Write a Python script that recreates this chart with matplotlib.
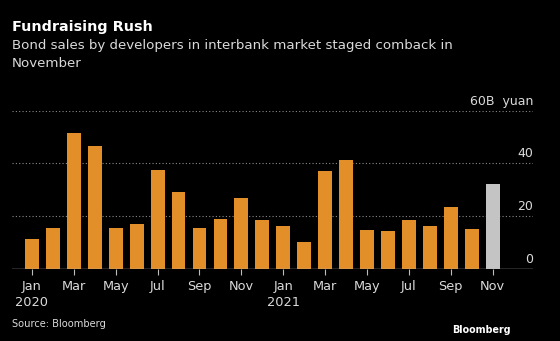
import matplotlib.pyplot as plt

# Monthly developer bond sales in interbank market, billion yuan
months = ["Jan", "Feb", "Mar", "Apr", "May", "Jun", "Jul", "Aug", "Sep", "Oct", "Nov", "Dec",
          "Jan", "Feb", "Mar", "Apr", "May", "Jun", "Jul", "Aug", "Sep", "Oct", "Nov"]
years = ["2020", "", "", "", "", "", "", "", "", "", "", "",
         "2021", "", "", "", "", "", "", "", "", "", ""]
sales = [11.4, 15.7, 51.4, 46.7, 15.7, 17.0, 37.6, 29.1, 15.7, 18.9, 26.8, 18.6,
         16.3, 10.1, 37.0, 41.5, 14.9, 14.3, 18.6, 16.3, 23.5, 15.3, 32.3]
yticks = [0, 20, 40, 60]

ORANGE = "#E28F2A"
GREY_BAR = "#C4C4C4"
TEXT = "#DADADA"
BG = "black"

fig = plt.figure(figsize=(5.6, 3.41), dpi=100, facecolor=BG)
ax = fig.add_axes([12 / 560, 1 - 269 / 341, (533 - 12) / 560, (269 - 110.7) / 341])
ax.set_facecolor(BG)

x = list(range(len(sales)))
colors = [ORANGE] * (len(sales) - 1) + [GREY_BAR]
ax.bar(x, sales, width=0.66, color=colors, zorder=2)

ax.set_xlim(-0.955, 23.93)
ax.set_ylim(0, 60)

# dotted gridlines + baseline
for t in yticks[1:]:
    ax.axhline(t, color="#8a8a8a", lw=0.8, ls=(0, (1, 2)), zorder=1)
ax.axhline(0, color="#bdbdbd", lw=1.0, zorder=3)

for s in ax.spines.values():
    s.set_visible(False)
ax.set_yticks([])

# right-hand y labels sitting above the gridlines
for t in yticks:
    lab = "60B  yuan" if t == 60 else str(t)
    ax.text(1.0, t + 3.6, lab, transform=ax.get_yaxis_transform(), ha="right", va="center",
            color=TEXT, fontsize=9, clip_on=False)

tick_pos = x[::2]
tick_lab = [m + ("\n" + y if y else "") for m, y in zip(months[::2], years[::2])]
ax.set_xticks(tick_pos)
ax.set_xticklabels(tick_lab, color=TEXT, fontsize=9.3, linespacing=1.25)
ax.tick_params(axis="x", length=4, width=0.8, color="#bdbdbd", pad=4)

fig.text(12 / 560, 1 - 27 / 341, "Fundraising Rush", color="white", fontsize=10.4,
         fontweight="bold", va="center", ha="left")
fig.text(12 / 560, 1 - 45.5 / 341, "Bond sales by developers in interbank market staged comback in",
         color=TEXT, fontsize=9.6, va="center", ha="left")
fig.text(12 / 560, 1 - 63.5 / 341, "November", color=TEXT, fontsize=9.6, va="center", ha="left")

fig.text(12 / 560, 1 - 324 / 341, "Source: Bloomberg", color=TEXT, fontsize=7.1, va="center", ha="left")
fig.text(511 / 560, 1 - 330 / 341, "Bloomberg", color="white", fontsize=6.9, fontweight="bold",
         va="center", ha="right")

fig.savefig("out.png", dpi=100, facecolor=BG)
